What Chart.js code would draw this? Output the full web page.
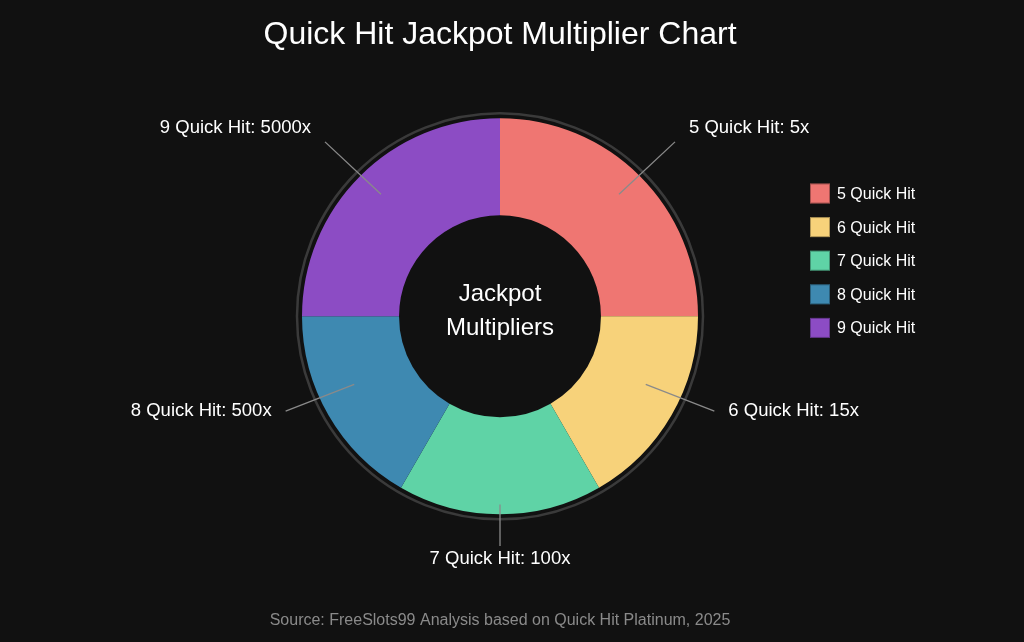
<!DOCTYPE html>
<html>
<head>
<meta charset="utf-8">
<title>Quick Hit Jackpot Multiplier Chart</title>
<script src="https://cdn.jsdelivr.net/npm/chart.js@4.4.1/dist/chart.umd.min.js"></script>
<style>
    html, body { margin: 0; padding: 0; background: #111111; }
    canvas { display: block; }
</style>
</head>
<body>
<canvas id="jackpotChart" width="1024" height="642"></canvas>
<script>
// Chart data
const categories = ['5 Quick Hit', '6 Quick Hit', '7 Quick Hit', '8 Quick Hit', '9 Quick Hit'];
const multipliers = ['5x', '15x', '100x', '500x', '5000x'];
const sliceShares = [25, 16.67, 16.67, 16.67, 25];
const sliceColors = ['#ef7672', '#f7d27a', '#5fd3a6', '#3e89b1', '#8c4cc4'];
const centerLines = ['Jackpot', 'Multipliers'];
const chartTitle = 'Quick Hit Jackpot Multiplier Chart';
const sourceNote = 'Source: FreeSlots99 Analysis based on Quick Hit Platinum, 2025';

const FONT = "'Liberation Sans', Arial, Helvetica, sans-serif";

// Dark page background
const backgroundPlugin = {
    id: 'darkBackground',
    beforeDraw(chart) {
        const { ctx, width, height } = chart;
        ctx.save();
        ctx.fillStyle = '#111111';
        ctx.fillRect(0, 0, width, height);
        ctx.restore();
    }
};

// Thin grey ring around the donut
const ringPlugin = {
    id: 'outerRing',
    beforeDatasetsDraw(chart) {
        const arc = chart.getDatasetMeta(0).data[0];
        if (!arc) return;
        const ctx = chart.ctx;
        ctx.save();
        ctx.beginPath();
        ctx.arc(arc.x, arc.y, arc.outerRadius + 5, 0, Math.PI * 2);
        ctx.strokeStyle = '#3a3a3a';
        ctx.lineWidth = 2.5;
        ctx.stroke();
        ctx.restore();
    }
};

// Text in the donut hole
const centerTextPlugin = {
    id: 'centerText',
    afterDatasetsDraw(chart) {
        const arc = chart.getDatasetMeta(0).data[0];
        if (!arc) return;
        const ctx = chart.ctx;
        ctx.save();
        ctx.fillStyle = '#ffffff';
        ctx.font = '24px ' + FONT;
        ctx.textAlign = 'center';
        ctx.textBaseline = 'middle';
        ctx.fillText(centerLines[0], arc.x, arc.y - 22);
        ctx.fillText(centerLines[1], arc.x, arc.y + 12);
        ctx.restore();
    }
};

// Outside labels with leader lines
const leaderLabelPlugin = {
    id: 'leaderLabels',
    afterDatasetsDraw(chart) {
        const meta = chart.getDatasetMeta(0);
        const ctx = chart.ctx;
        ctx.save();
        ctx.font = '18.5px ' + FONT;
        ctx.textBaseline = 'middle';
        meta.data.forEach((arc, i) => {
            const mid = (arc.startAngle + arc.endAngle) / 2;
            const cos = Math.cos(mid);
            const sin = Math.sin(mid);
            const r = arc.outerRadius;
            const side = Math.abs(cos) >= 0.2;
            // side labels sit a little higher than the pure radial spot
            const startLift = side ? (sin < 0 ? 3 : 16) : 0;
            const endLift = side ? (sin < 0 ? 12 : 20) : 0;
            const sx = arc.x + cos * r * 0.85;
            const sy = arc.y + sin * r * (side ? 0.85 : 0.95) - startLift;
            const ex = arc.x + cos * r * 1.25;
            const ey = arc.y + sin * r * 1.16 - endLift;

            ctx.beginPath();
            ctx.moveTo(sx, sy);
            ctx.lineTo(ex, ey);
            ctx.strokeStyle = '#8a8a8a';
            ctx.lineWidth = 1.3;
            ctx.stroke();

            const text = categories[i] + ': ' + multipliers[i];
            ctx.fillStyle = '#ffffff';
            if (!side) {
                ctx.textAlign = 'center';
                ctx.fillText(text, ex, ey + (sin > 0 ? 13 : -13));
            } else {
                ctx.textAlign = cos > 0 ? 'left' : 'right';
                ctx.fillText(text, ex + (cos > 0 ? 14 : -14), ey + (sin < 0 ? -14 : 0));
            }
        });
        ctx.restore();
    }
};

// Legend on the right
const sideLegendPlugin = {
    id: 'sideLegend',
    afterDraw(chart) {
        const ctx = chart.ctx;
        const left = 810;
        const top = 183.5;
        const step = 33.6;
        ctx.save();
        ctx.font = '16px ' + FONT;
        ctx.textAlign = 'left';
        ctx.textBaseline = 'middle';
        categories.forEach((label, i) => {
            const y = top + i * step;
            ctx.fillStyle = sliceColors[i];
            ctx.fillRect(left, y, 20, 20);
            ctx.strokeStyle = 'rgba(0,0,0,0.3)';
            ctx.lineWidth = 1;
            ctx.strokeRect(left + 0.5, y + 0.5, 19, 19);
            ctx.fillStyle = '#ffffff';
            ctx.fillText(label, left + 27, y + 11);
        });
        ctx.restore();
    }
};

document.addEventListener('DOMContentLoaded', () => {
    const ctx = document.getElementById('jackpotChart').getContext('2d');

    new Chart(ctx, {
        type: 'doughnut',
        data: {
            labels: categories,
            datasets: [{
                data: sliceShares,
                backgroundColor: sliceColors,
                borderWidth: 0,
                radius: 198,
                cutout: '51%'
            }]
        },
        options: {
            responsive: false,
            animation: false,
            layout: {
                padding: { left: 0, right: 24, top: 0, bottom: 0 }
            },
            plugins: {
                legend: { display: false },
                tooltip: { enabled: false },
                title: {
                    display: true,
                    text: chartTitle,
                    color: '#ffffff',
                    font: { family: FONT, size: 32, weight: 'normal' },
                    padding: { top: 16, bottom: 10 }
                },
                subtitle: {
                    display: true,
                    position: 'bottom',
                    text: sourceNote,
                    color: '#8a8a8a',
                    font: { family: FONT, size: 16, weight: 'normal' },
                    padding: { top: 42.6, bottom: 12 }
                }
            }
        },
        plugins: [backgroundPlugin, ringPlugin, centerTextPlugin, leaderLabelPlugin, sideLegendPlugin]
    });
});
</script>
</body>
</html>
